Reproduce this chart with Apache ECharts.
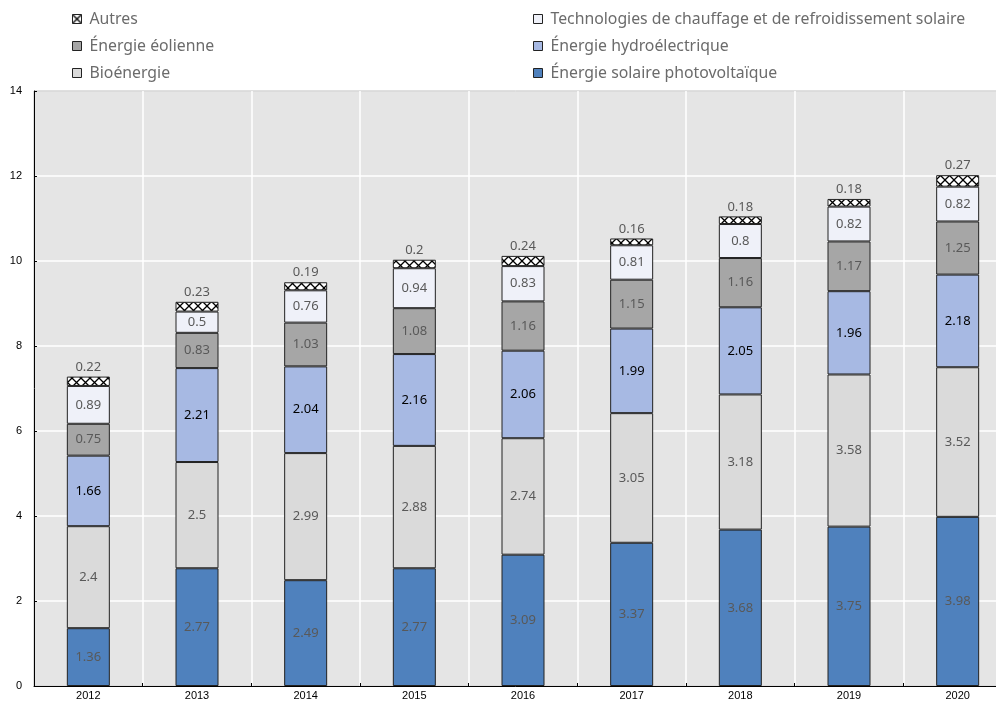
<!DOCTYPE html>
<html><head><meta charset="utf-8">
<script src="https://cdn.jsdelivr.net/npm/echarts@6/dist/echarts.min.js"></script>
<style>html,body{margin:0;padding:0;background:#fff}#c{width:996px;height:701px}</style>
</head><body><div id="c"></div>
<script>
var years = ['2012','2013','2014','2015','2016','2017','2018','2019','2020'];
var pv = [1.36, 2.77, 2.49, 2.77, 3.09, 3.37, 3.68, 3.75, 3.98];
var bio = [2.4, 2.5, 2.99, 2.88, 2.74, 3.05, 3.18, 3.58, 3.52];
var hydro = [1.66, 2.21, 2.04, 2.16, 2.06, 1.99, 2.05, 1.96, 2.18];
var wind = [0.75, 0.83, 1.03, 1.08, 1.16, 1.15, 1.16, 1.17, 1.25];
var thermal = [0.89, 0.5, 0.76, 0.94, 0.83, 0.81, 0.8, 0.82, 0.82];
var autres = [0.22, 0.23, 0.19, 0.2, 0.24, 0.16, 0.18, 0.18, 0.27];

var names = {
  pv: 'Énergie solaire photovoltaïque',
  bio: 'Bioénergie',
  hydro: 'Énergie hydroélectrique',
  wind: 'Énergie éolienne',
  thermal: 'Technologies de chauffage et de refroidissement solaire',
  autres: 'Autres'
};

var pc = document.createElement('canvas');
pc.width = 9; pc.height = 9;
var g = pc.getContext('2d');
g.fillStyle = '#fff'; g.fillRect(0,0,9,9);
g.strokeStyle = '#000'; g.lineWidth = 1.3;
g.beginPath(); g.moveTo(0,0); g.lineTo(9,9); g.moveTo(9,0); g.lineTo(0,9); g.stroke();

var chart = echarts.init(document.getElementById('c'), null, {renderer:'canvas'});
var labelFont = 'Noto Sans';
function ser(name, data, color, lblColor, pos) {
  return {
    name: name, type: 'bar', stack: 'a', data: data, barWidth: 43,
    itemStyle: {color: color, borderColor: '#222', borderWidth: 1},
    label: {show: true, position: pos || 'inside', color: lblColor, fontFamily: labelFont, fontSize: 13,
      distance: 3},
    emphasis: {disabled: true}
  };
}
var legendText = {color: '#6b6b6b', fontSize: 15.8, fontFamily: labelFont, lineHeight: 16, padding: [0,0,0,3]};
var legBase = {orient: 'vertical', top: 11, padding: 0, itemWidth: 9, itemHeight: 9, itemGap: 11,
  icon: 'rect', textStyle: legendText, selectedMode: false,
  itemStyle: {borderColor: '#222', borderWidth: 1}};
chart.setOption({
  animation: false,
  backgroundColor: '#fff',
  legend: [
    Object.assign({}, legBase, {left: 72, data: [names.autres, names.wind, names.bio]}),
    Object.assign({}, legBase, {left: 533, data: [names.thermal, names.hydro, names.pv]})
  ],
  grid: {left: 34, top: 91, width: 978, bottom: 15, show: true, backgroundColor: '#e5e5e5',
    borderColor: '#000', borderWidth: 1, outerBoundsMode: 'none', containLabel: false},
  xAxis: {
    type: 'category', data: years, boundaryGap: true,
    axisLine: {lineStyle: {color: '#000', width: 1}},
    axisTick: {show: true, inside: true, length: 3, lineStyle: {color: '#000'}},
    splitLine: {show: true, lineStyle: {color: '#fff', width: 1.5}},
    axisLabel: {color: '#000', fontSize: 11, fontFamily: 'Liberation Sans', margin: 4}
  },
  yAxis: {
    type: 'value', min: 0, max: 14, interval: 2,
    axisLine: {show: true, lineStyle: {color: '#000', width: 1}},
    axisTick: {show: true, inside: true, length: 3, lineStyle: {color: '#000'}},
    splitLine: {show: true, lineStyle: {color: '#fff', width: 1.5}},
    axisLabel: {color: '#000', fontSize: 11, fontFamily: 'Liberation Sans', margin: 12}
  },
  series: [
    ser(names.pv, pv, '#4f81bd', '#595959'),
    ser(names.bio, bio, '#dadada', '#595959'),
    ser(names.hydro, hydro, '#a7b9e3', '#000'),
    ser(names.wind, wind, '#a6a6a6', '#595959'),
    ser(names.thermal, thermal, '#eff1f9', '#595959'),
    ser(names.autres, autres, {image: pc, repeat: 'repeat'}, '#595959', 'top')
  ]
});
</script></body></html>
